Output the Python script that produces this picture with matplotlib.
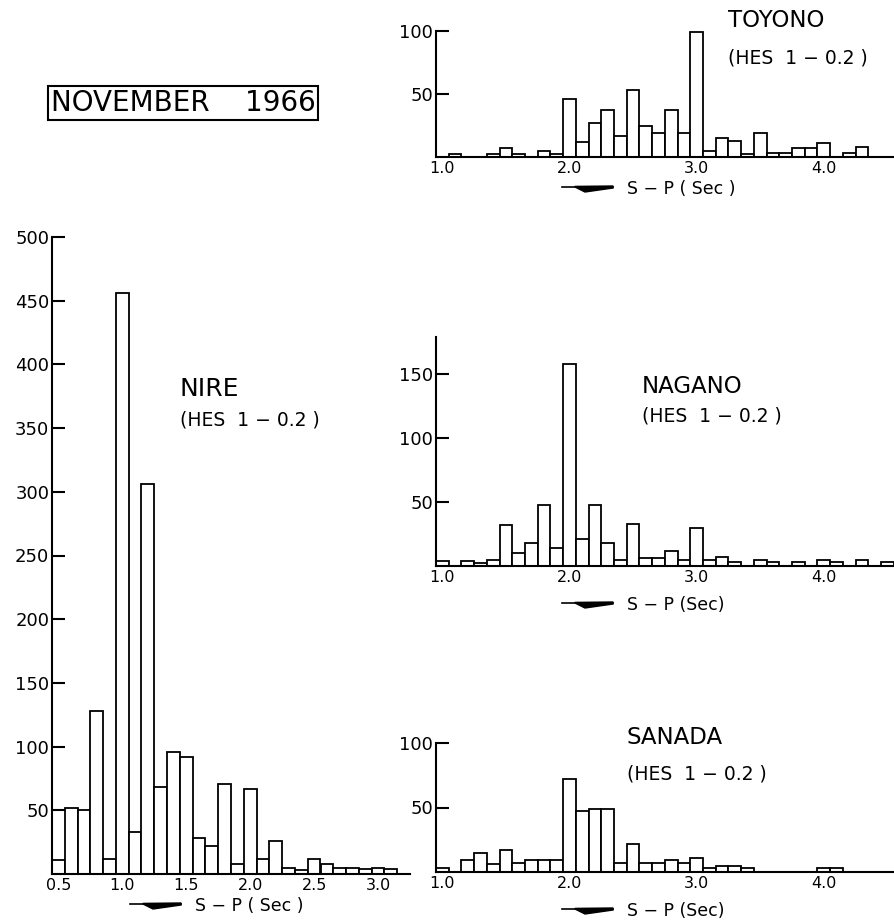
import matplotlib
matplotlib.use('Agg')
import matplotlib.pyplot as plt
from matplotlib.lines import Line2D
from matplotlib.patches import Polygon

W, H = 895, 923

# S-P time (sec) of the bar centres, one bar per 0.1 sec
nire_sp = [round(0.5 + 0.1 * i, 1) for i in range(27)]
nire_counts = [11, 52, 50, 128, 12, 456, 33, 306, 68, 96, 92, 28, 22, 71,
               8, 67, 12, 26, 5, 3, 12, 8, 5, 5, 4, 5, 4]

station_sp = [round(1.0 + 0.1 * i, 1) for i in range(36)]
toyono_counts = [0, 2, 0, 0, 2, 7, 2, 0, 5, 2, 46, 12, 27, 37, 17, 53, 25, 19,
                 37, 19, 99, 5, 15, 13, 2, 19, 3, 3, 7, 7, 11, 0, 3, 8, 0, 0]
nagano_counts = [4, 0, 4, 2, 5, 32, 10, 18, 48, 14, 158, 21, 48, 18, 5, 33, 6, 6,
                 12, 5, 30, 5, 7, 3, 0, 5, 3, 0, 3, 0, 5, 3, 0, 5, 0, 3]
sanada_counts = [3, 0, 9, 15, 6, 17, 7, 9, 9, 9, 72, 47, 49, 49, 7, 22, 7, 7,
                 9, 7, 11, 3, 5, 5, 3, 0, 0, 0, 0, 0, 3, 3, 0, 0, 0, 0]

nire_xticks = [0.5, 1.0, 1.5, 2.0, 2.5, 3.0]
station_xticks = [1.0, 2.0, 3.0, 4.0]


def px(x, y):
    # pixel position (from top left) -> figure fraction
    return x / W, 1 - y / H


def histogram(fig, box, sp, counts, xlim, ylim, yticks, xticks):
    l, t, r, b = box
    fx0, fy0 = px(l, b)
    fx1, fy1 = px(r, t)
    ax = fig.add_axes([fx0, fy0, fx1 - fx0, fy1 - fy0])
    ax.bar(sp, counts, width=0.1, color='white', edgecolor='black',
           linewidth=1.3, zorder=2)
    ax.set_xlim(*xlim)
    ax.set_ylim(*ylim)
    for s in ['top', 'right']:
        ax.spines[s].set_visible(False)
    for s in ['left', 'bottom']:
        ax.spines[s].set_linewidth(1.5)
        ax.spines[s].set_clip_on(False)
    ax.set_yticks(yticks)
    ax.set_yticklabels([str(v) for v in yticks])
    ax.set_xticks(xticks)
    ax.set_xticklabels(['%.1f' % v for v in xticks])
    ax.tick_params(axis='y', direction='in', length=9, width=1.5, pad=2,
                   labelsize=13)
    ax.tick_params(axis='x', length=0, pad=3, labelsize=11.5)
    ax.patch.set_alpha(0)
    return ax


def sp_label(fig, x0, y0, text):
    tr = fig.transFigure
    xa, ya = px(x0, y0)
    xb, yb = px(x0 + 51, y0)
    fig.add_artist(Line2D([xa, xb], [ya, yb], color='black', lw=1.2,
                          transform=tr))
    pts = [px(x0 + 13, y0), px(x0 + 23, y0 + 5), px(x0 + 51, y0 + 1),
           px(x0 + 51, y0 - 1), px(x0 + 13, y0 - 0.6)]
    fig.add_artist(Polygon(pts, closed=True, color='black', transform=tr))
    tx, ty = px(x0 + 65, y0 + 2)
    fig.text(tx, ty, text, fontsize=12.5, ha='left', va='center')


def station_name(fig, x, y, name, y2, size=16.5):
    fig.text(*px(x, y), name, fontsize=size, ha='left', va='baseline')
    fig.text(*px(x, y2), '(HES  1 − 0.2 )', fontsize=13.5, ha='left',
             va='baseline')


fig = plt.figure(figsize=(W / 100, H / 100), dpi=100)

histogram(fig, (52, 237, 410, 874), nire_sp, nire_counts, (0.45, 3.25),
          (0, 500), list(range(50, 501, 50)), nire_xticks)
histogram(fig, (436, 31, 895, 157), station_sp, toyono_counts, (0.95, 4.56),
          (0, 100), [50, 100], station_xticks)
histogram(fig, (436, 337, 895, 566), station_sp, nagano_counts, (0.95, 4.56),
          (0, 179), [50, 100, 150], station_xticks)
histogram(fig, (436, 743, 895, 872), station_sp, sanada_counts, (0.95, 4.56),
          (0, 100), [50, 100], station_xticks)

sp_label(fig, 130, 904, 'S − P ( Sec )')
sp_label(fig, 562, 187, 'S − P ( Sec )')
sp_label(fig, 562, 603, 'S − P (Sec)')
sp_label(fig, 562, 909, 'S − P (Sec)')

station_name(fig, 728, 27, 'TOYONO', 64)
station_name(fig, 642, 393, 'NAGANO', 422)
station_name(fig, 627, 744, 'SANADA', 780)
station_name(fig, 180, 396, 'NIRE', 426, size=18)

fig.text(*px(183, 103), 'NOVEMBER    1966', fontsize=20, ha='center',
         va='center',
         bbox=dict(boxstyle='square,pad=0.1', facecolor='white',
                   edgecolor='black', linewidth=1.5))

fig.savefig('out.png', dpi=100)
